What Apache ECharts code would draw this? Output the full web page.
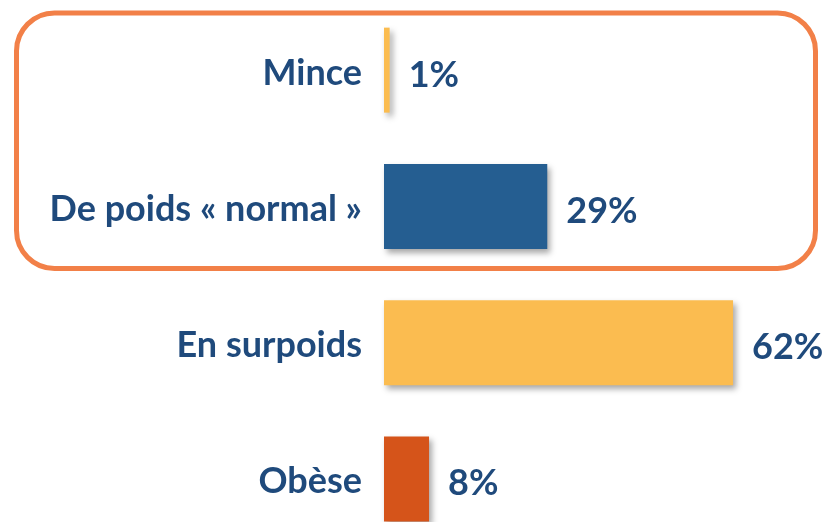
<!DOCTYPE html>
<html>
<head>
<meta charset="utf-8">
<script src="https://cdn.jsdelivr.net/npm/echarts@6/dist/echarts.min.js"></script>
<style>
  html, body { margin: 0; padding: 0; background: #fff; }
  #chart { width: 828px; height: 522px; }
</style>
</head>
<body>
<div id="chart"></div>
<script>
const categories = ['Mince', 'De poids « normal »', 'En surpoids', 'Obèse'];
const values = [1, 29, 62, 8];
const colors = ['#FBBC4F', '#255E91', '#FBBC50', '#D5541A'];

const textColor = '#1F4A7C';
const font = 'Lato';

const chart = echarts.init(document.getElementById('chart'));
chart.setOption({
  animation: false,
  grid: {
    left: 384, top: 2, width: 450.4, height: 545,
    containLabel: false, outerBoundsMode: 'none'
  },
  xAxis: {
    type: 'value', min: 0, max: 80, show: false
  },
  yAxis: {
    type: 'category',
    data: categories,
    inverse: true,
    axisLine: { show: false },
    axisTick: { show: false },
    axisLabel: {
      margin: 22,
      formatter: '{a|{value}}',
      rich: {
        a: {
          padding: [6, 0, 0, 0],
          color: textColor,
          fontFamily: font,
          fontWeight: 'bold',
          fontSize: 36
        }
      }
    }
  },
  series: [{
    type: 'bar',
    barWidth: 85,
    data: values.map((v, i) => ({
      value: v,
      itemStyle: { color: colors[i] }
    })),
    itemStyle: {
      shadowColor: 'rgba(0,0,0,0.35)',
      shadowBlur: 6,
      shadowOffsetX: 3,
      shadowOffsetY: 4
    },
    label: {
      show: true,
      position: 'right',
      distance: 19,
      offset: [0, 5],
      formatter: '{c}%',
      color: textColor,
      fontFamily: font,
      fontWeight: 'bold',
      fontSize: 36
    }
  }],
  graphic: [{
    type: 'rect',
    shape: { x: 16.5, y: 13, width: 799, height: 255.5, r: 38 },
    style: { fill: 'none', stroke: '#F28048', lineWidth: 5 },
    z: 10
  }]
});
</script>
</body>
</html>
